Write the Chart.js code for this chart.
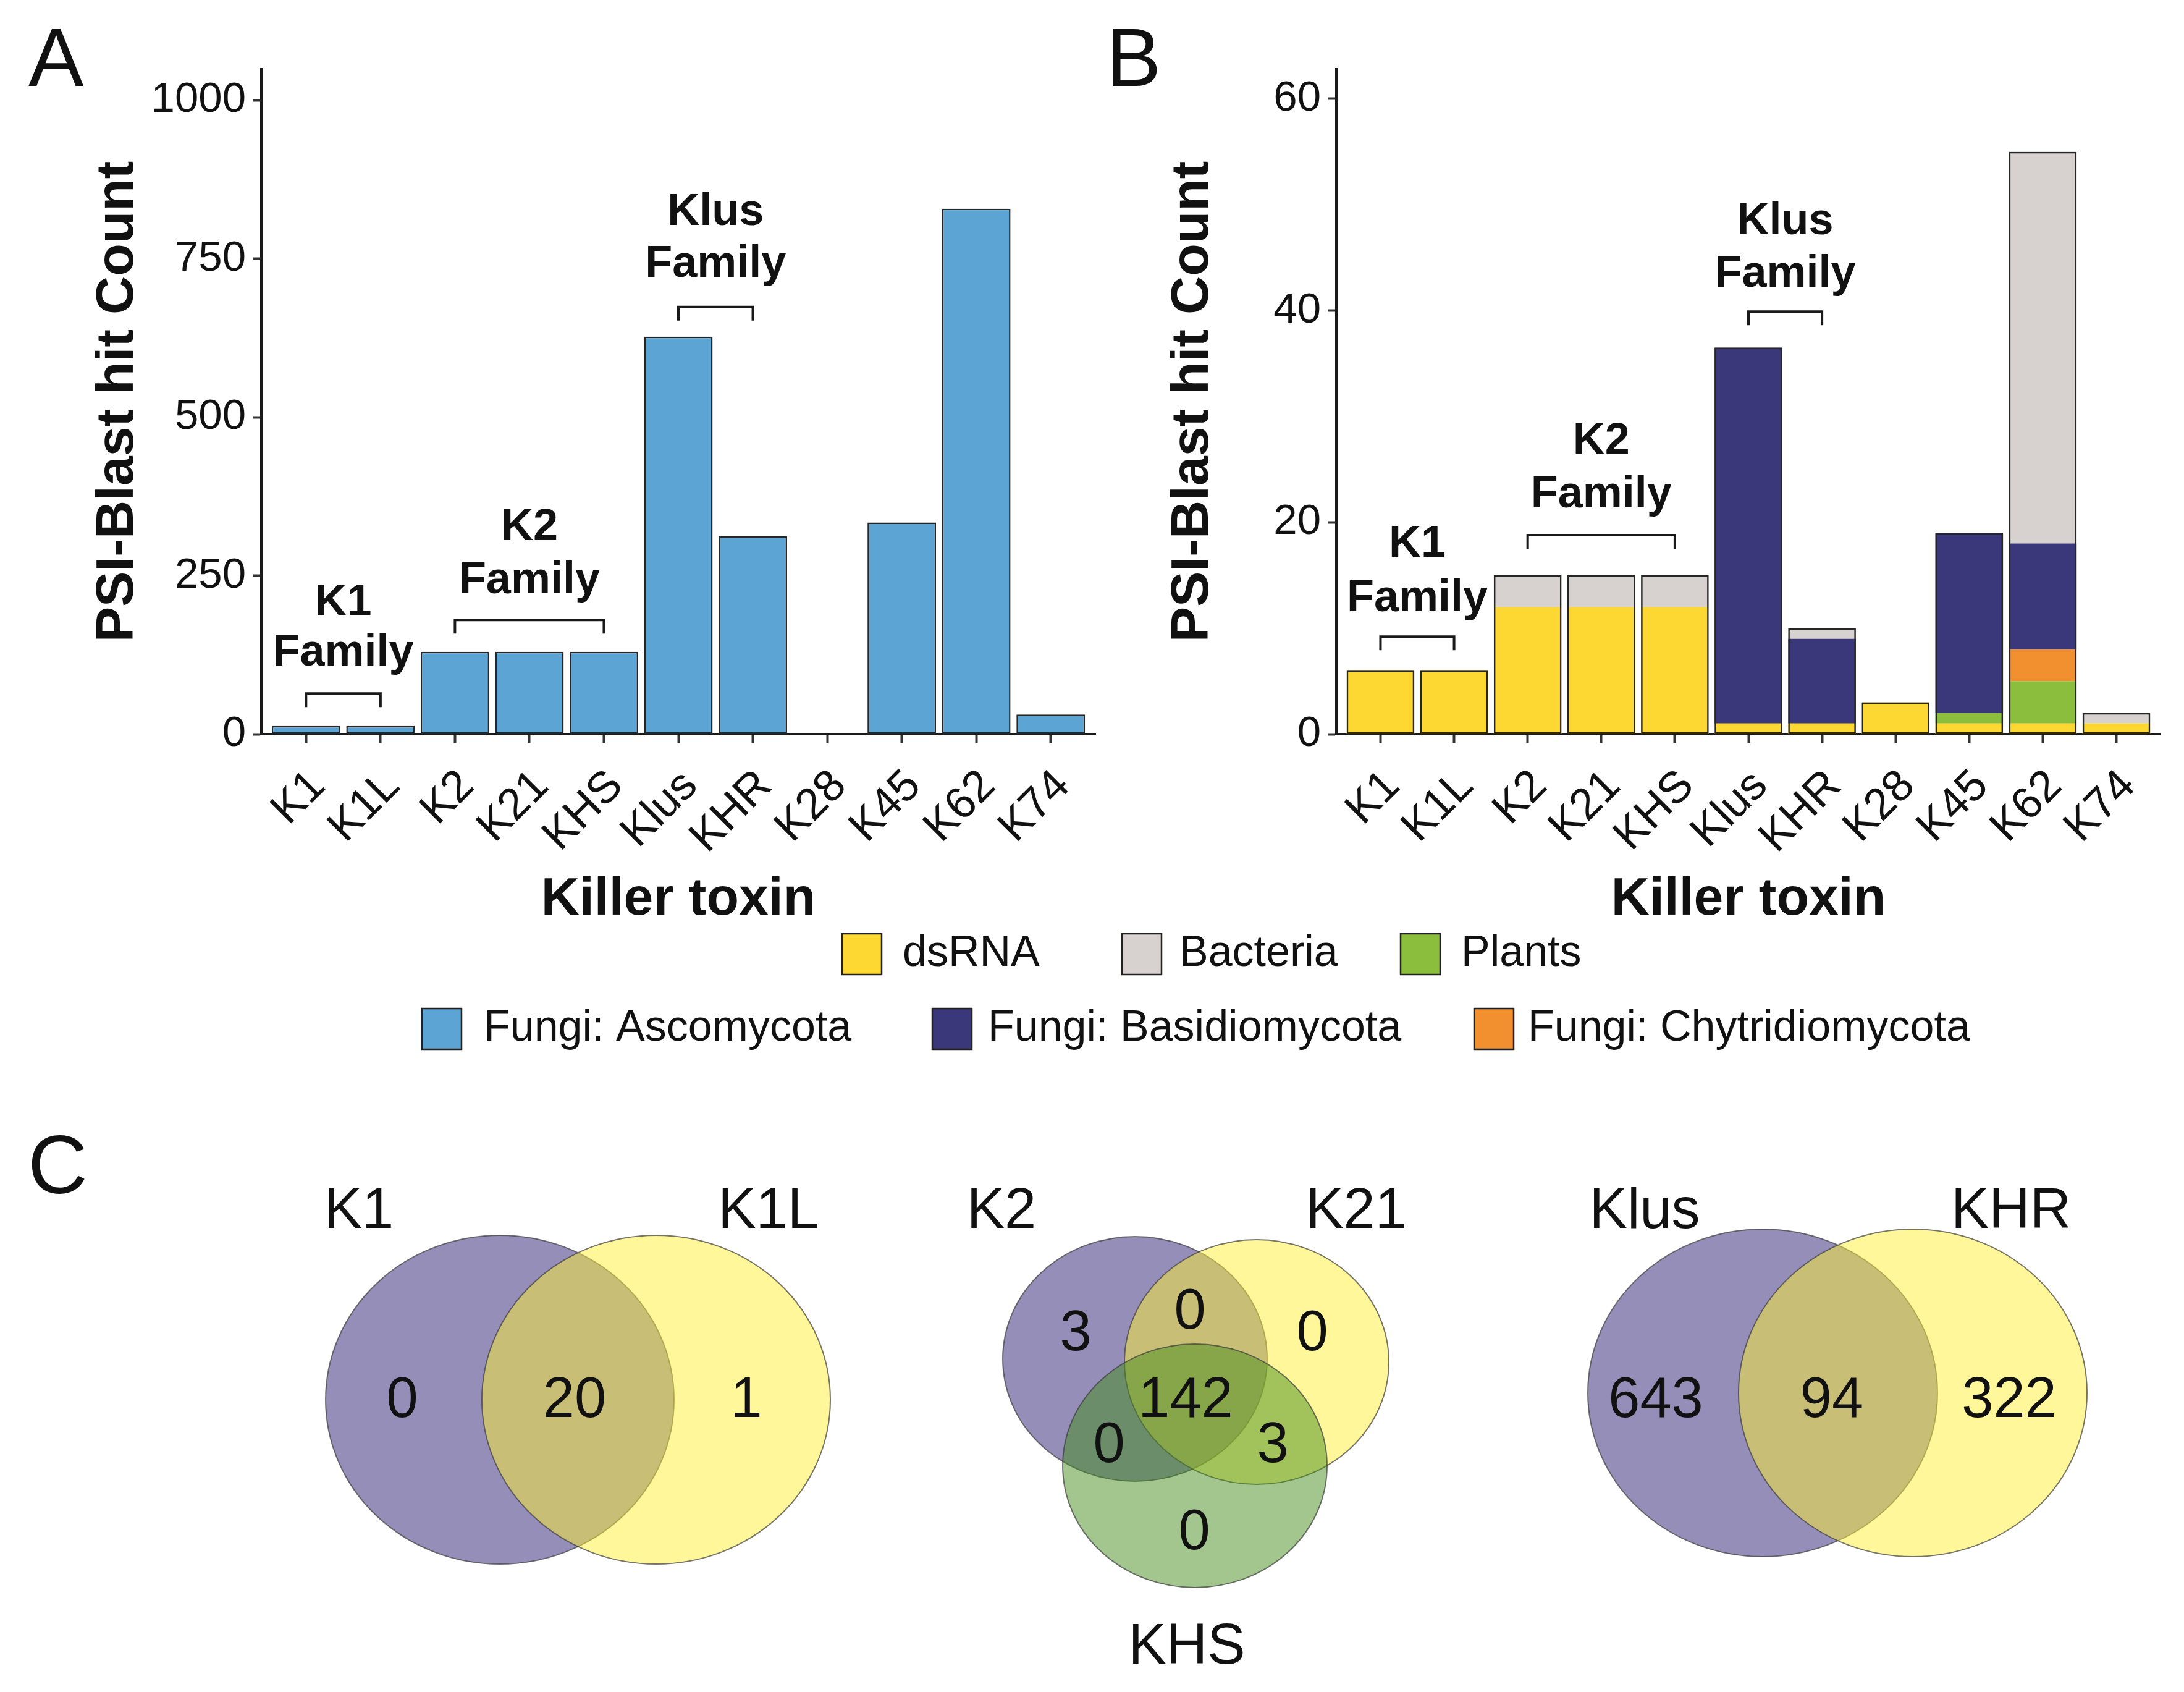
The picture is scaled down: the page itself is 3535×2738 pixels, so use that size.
<!DOCTYPE html>
<html><head><meta charset="utf-8">
<script src="https://cdn.jsdelivr.net/npm/chart.js@4.4.1/dist/chart.umd.min.js"></script>
<style>
html,body{margin:0;padding:0;background:#fff;}
body{width:3535px;height:2738px;position:relative;overflow:hidden;}
canvas{position:absolute;top:0;}
#cC{left:0;}
#cA{left:0;}
#cB{left:1750px;}
</style></head><body>
<canvas id="cC" width="3535" height="2738"></canvas>
<canvas id="cA" width="1800" height="1500"></canvas>
<canvas id="cB" width="1785" height="1500"></canvas>
<script>
// ---------------- data ----------------
const categories = ['K1','K1L','K2','K21','KHS','Klus','KHR','K28','K45','K62','K74'];
const ascomycota = [13, 13, 130, 130, 130, 627, 312, 0, 334, 829, 31];
const dsRNA       = [6, 6, 12, 12, 12, 1, 1, 3, 1, 1, 1];
const plants      = [0, 0, 0, 0, 0, 0, 0, 0, 1, 4, 0];
const chytridiomycota = [0, 0, 0, 0, 0, 0, 0, 0, 0, 3, 0];
const basidiomycota   = [0, 0, 0, 0, 0, 35.5, 8, 0, 17, 10, 0];
const bacteria    = [0, 0, 3, 3, 3, 0, 1, 0, 0, 37, 1];
const yTicksA = [0, 250, 500, 750, 1000];
const yTicksB = [0, 20, 40, 60];

const vennSets1 = ['K1', 'K1L'];
const vennCounts1 = [0, 20, 1];                 // K1 only, both, K1L only
const vennSets2 = ['K2', 'K21', 'KHS'];
const vennCounts2 = [3, 0, 0, 142, 0, 3, 0];    // K2, K2&K21, K21, all, K2&KHS, K21&KHS, KHS
const vennSets3 = ['Klus', 'KHR'];
const vennCounts3 = [643, 94, 322];

// ---------------- styles ----------------
const FONT = "'Liberation Sans', Arial, Helvetica, sans-serif";
const C_ASCO = '#5BA4D3', C_DSRNA = '#FDD832', C_BACT = '#D7D2CF', C_PLANT = '#8CBE3E',
      C_BASID = '#3A377A', C_CHYT = '#F28F2E';
const INK = '#111111', AXIS = '#1a1a1a';

const familiesA = [
  {from:0, to:1, y:64,  ty:[207,128], lines:['K1','Family']},
  {from:2, to:4, y:180, ty:[325,242], lines:['K2','Family']},
  {from:5, to:6, y:674, ty:[823,741], lines:['Klus','Family']}
];
const familiesB = [
  {from:0, to:1, y:9.2,  ty:[17.9,12.8], lines:['K1','Family']},
  {from:2, to:4, y:18.8, ty:[27.6,22.6], lines:['K2','Family']},
  {from:5, to:6, y:39.9, ty:[48.4,43.4], lines:['Klus','Family']}
];

function decorPlugin(families, xTitle, yTitle){
  return {
    id: 'decor',
    afterDraw(chart){
      const ctx = chart.ctx, xs = chart.scales.x, ys = chart.scales.y, ca = chart.chartArea;
      ctx.save();
      ctx.strokeStyle = AXIS; ctx.fillStyle = INK; ctx.lineWidth = 4; ctx.lineJoin = 'miter';
      families.forEach(f => {
        const x1 = xs.getPixelForValue(f.from), x2 = xs.getPixelForValue(f.to), yy = ys.getPixelForValue(f.y);
        ctx.beginPath(); ctx.moveTo(x1, yy + 22); ctx.lineTo(x1, yy); ctx.lineTo(x2, yy); ctx.lineTo(x2, yy + 22); ctx.stroke();
        ctx.font = 'bold 72px ' + FONT; ctx.textAlign = 'center'; ctx.textBaseline = 'middle';
        const cx = xs.getPixelForValue((f.from + f.to) / 2);
        f.lines.forEach((t, i) => ctx.fillText(t, cx, ys.getPixelForValue(f.ty[i])));
      });
      ctx.font = 'bold 86px ' + FONT; ctx.textAlign = 'center'; ctx.textBaseline = 'alphabetic';
      ctx.fillText(xTitle, (ca.left + ca.right) / 2, 1480);
      ctx.translate(ca.left - 208, (ca.top + ca.bottom) / 2); ctx.rotate(-Math.PI / 2);
      ctx.fillText(yTitle, 0, 0);
      ctx.restore();
    }
  };
}

function axisOpts(){
  return {
    grid: {display:true, drawOnChartArea:false, drawTicks:true, tickLength:14, tickWidth:4, tickColor:'#333', offset:false},
    border: {display:true, width:4, color:AXIS}
  };
}

function barOptions(yMax, yTicks, yWidth, rightPad){
  const ax = axisOpts(), ay = axisOpts();
  return {
    responsive:false, animation:false, devicePixelRatio:1,
    layout:{padding:{left:0, right:rightPad, top:112, bottom:0}},
    plugins:{legend:{display:false}, tooltip:{enabled:false}},
    scales:{
      x: Object.assign(ax, {
        type:'linear', min:-0.6, max:10.6, bounds:'data', offset:false, stacked:true,
        afterBuildTicks: s => { s.ticks = categories.map((c, i) => ({value:i})); },
        afterFit: s => { s.height = 312; },
        ticks:{autoSkip:false, minRotation:45, maxRotation:45, padding:28, labelOffset:20,
               color:INK, font:{family:FONT, size:72}, callback: v => categories[v]}
      }),
      y: Object.assign(ay, {
        type:'linear', min:0, max:yMax, stacked:true,
        afterBuildTicks: s => { s.ticks = yTicks.map(v => ({value:v})); },
        afterFit: s => { s.width = yWidth; },
        ticks:{padding:11, color:INK, font:{family:FONT, size:69}, callback: v => String(v)}
      })
    }
  };
}

// ---------------- Panel A ----------------
new Chart(document.getElementById('cA'), {
  type:'bar',
  data:{datasets:[{
    label:'Fungi: Ascomycota',
    data: ascomycota.map((v, i) => ({x:i, y:v})),
    backgroundColor:C_ASCO, borderColor:'#262626', borderWidth:2.5, borderSkipped:false,
    barPercentage:0.92, categoryPercentage:1
  }]},
  options: barOptions(1049, yTicksA, 423, 27),
  plugins:[decorPlugin(familiesA, 'Killer toxin', 'PSI-Blast hit Count')]
});

// ---------------- Panel B ----------------
const stackSeries = [
  {label:'dsRNA', data:dsRNA, color:C_DSRNA},
  {label:'Plants', data:plants, color:C_PLANT},
  {label:'Fungi: Chytridiomycota', data:chytridiomycota, color:C_CHYT},
  {label:'Fungi: Basidiomycota', data:basidiomycota, color:C_BASID},
  {label:'Bacteria', data:bacteria, color:C_BACT}
];
const totalsB = categories.map((c, i) => stackSeries.reduce((s, ser) => s + ser.data[i], 0));
const dsB = stackSeries.map(s => ({
  label:s.label, data:s.data.map((v, i) => ({x:i, y:v})),
  backgroundColor:s.color, borderWidth:0, stack:'hits', order:1,
  barPercentage:0.92, categoryPercentage:1
}));
dsB.push({
  label:'outline', data: totalsB.map((v, i) => ({x:i, y:v})),
  backgroundColor:'rgba(0,0,0,0)', borderColor:'#262626', borderWidth:2.5, borderSkipped:false,
  stack:'outline', grouped:false, order:0, barPercentage:0.92, categoryPercentage:1
});
new Chart(document.getElementById('cB'), {
  type:'bar',
  data:{datasets:dsB},
  options: barOptions(62.8, yTicksB, 413, 38),
  plugins:[decorPlugin(familiesB, 'Killer toxin', 'PSI-Blast hit Count')]
});

// ---------------- Legend + Venn (panel C) ----------------
const legendRows = [
  {y:1544, items:[{label:'dsRNA', color:C_DSRNA, kx:1363, tx:1461},
                  {label:'Bacteria', color:C_BACT, kx:1816, tx:1909},
                  {label:'Plants', color:C_PLANT, kx:2267, tx:2365}]},
  {y:1665, items:[{label:'Fungi: Ascomycota', color:C_ASCO, kx:683, tx:783},
                  {label:'Fungi: Basidiomycota', color:C_BASID, kx:1509, tx:1599},
                  {label:'Fungi: Chytridiomycota', color:C_CHYT, kx:2386, tx:2473}]}
];
const V_PURPLE = 'rgba(41,29,113,0.5)', V_YELLOW = 'rgba(255,239,51,0.5)', V_GREEN = 'rgba(69,141,29,0.5)';
const venns = [
  {sets:vennSets1, counts:vennCounts1, fills:[V_PURPLE, V_YELLOW],
   ell:[{cx:809, cy:2265, rx:282, ry:266}, {cx:1062, cy:2265, rx:282, ry:266}],
   names:[[581,1987],[1244,1987]], pos:[[651,2293],[930,2293],[1208,2293]]},
  {sets:vennSets2, counts:vennCounts2, fills:[V_PURPLE, V_YELLOW, V_GREEN],
   ell:[{cx:1837, cy:2199, rx:214, ry:198}, {cx:2034, cy:2204, rx:214, ry:198}, {cx:1934, cy:2372, rx:214, ry:197}],
   names:[[1621,1987],[2195,1987],[1921,2692]],
   pos:[[1741,2185],[1926,2150],[2124,2185],[1919,2293],[1795,2366],[2060,2366],[1933,2507]]},
  {sets:vennSets3, counts:vennCounts3, fills:[V_PURPLE, V_YELLOW],
   ell:[{cx:2853, cy:2254, rx:283, ry:265}, {cx:3096, cy:2254, rx:282, ry:265}],
   names:[[2662,1987],[3255,1987]], pos:[[2680,2293],[2965,2293],[3252,2293]]}
];
const panelLetters = [{t:'A', x:46, y:139}, {t:'B', x:1790, y:139}, {t:'C', x:45, y:1931}];

const pagePlugin = {
  id:'page',
  afterDraw(chart){
    const ctx = chart.ctx, sx = chart.scales.x, sy = chart.scales.y;
    const X = v => sx.getPixelForValue(v), Y = v => sy.getPixelForValue(v);
    ctx.save();
    // panel letters
    ctx.fillStyle = INK; ctx.font = '134px ' + FONT; ctx.textAlign = 'left'; ctx.textBaseline = 'alphabetic';
    panelLetters.forEach(p => ctx.fillText(p.t, X(p.x), Y(p.y)));
    // legend
    legendRows.forEach(r => r.items.forEach(it => {
      const x0 = X(it.kx), y0 = Y(r.y - 33), w = X(it.kx + 64) - x0, h = Y(r.y + 33) - y0;
      ctx.fillStyle = it.color; ctx.fillRect(x0, y0, w, h);
      ctx.strokeStyle = '#222'; ctx.lineWidth = 2.5; ctx.strokeRect(x0, y0, w, h);
      ctx.fillStyle = INK; ctx.font = '70px ' + FONT; ctx.textAlign = 'left'; ctx.textBaseline = 'middle';
      ctx.fillText(it.label, X(it.tx), Y(r.y));
    }));
    // venn diagrams
    venns.forEach(v => {
      v.ell.forEach((e, i) => {
        const cx = X(e.cx), cy = Y(e.cy), rx = Math.abs(X(e.cx + e.rx) - cx), ry = Math.abs(Y(e.cy + e.ry) - cy);
        ctx.beginPath(); ctx.ellipse(cx, cy, rx, ry, 0, 0, Math.PI * 2);
        ctx.fillStyle = v.fills[i]; ctx.fill();
        ctx.lineWidth = 2; ctx.strokeStyle = 'rgba(60,60,60,0.7)'; ctx.stroke();
      });
      ctx.fillStyle = INK; ctx.font = '92px ' + FONT; ctx.textAlign = 'center'; ctx.textBaseline = 'alphabetic';
      v.sets.forEach((s, i) => ctx.fillText(s, X(v.names[i][0]), Y(v.names[i][1])));
      v.counts.forEach((c, i) => ctx.fillText(String(c), X(v.pos[i][0]), Y(v.pos[i][1])));
    });
    ctx.restore();
  }
};
new Chart(document.getElementById('cC'), {
  type:'scatter',
  data:{datasets:[]},
  options:{
    responsive:false, animation:false, devicePixelRatio:1,
    layout:{padding:0},
    plugins:{legend:{display:false}, tooltip:{enabled:false}},
    scales:{
      x:{type:'linear', min:0, max:3535, display:false},
      y:{type:'linear', min:0, max:2738, reverse:true, display:false}
    }
  },
  plugins:[pagePlugin]
});
</script>
</body></html>
